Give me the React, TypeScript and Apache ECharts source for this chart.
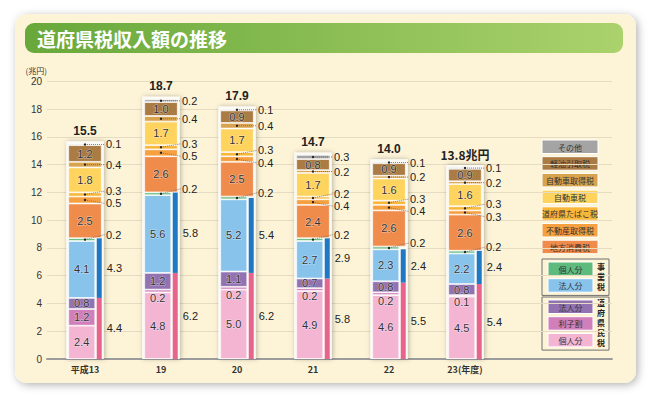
import React, { useEffect, useRef } from 'react';
import * as echarts from 'echarts';

const categories = ['平成13', '19', '20', '21', '22', '23(年度)'];
const totalLabels = ['15.5', '18.7', '17.9', '14.7', '14.0', '13.8兆円'];

// 道府県民税
const kojinJumin = [2.4, 4.8, 5.0, 4.9, 4.6, 4.5];
const rishiwari = [1.2, 0.2, 0.2, 0.2, 0.2, 0.1];
const hojinJumin = [0.8, 1.2, 1.1, 0.7, 0.8, 0.8];
// 事業税
const hojinJigyo = [4.1, 5.6, 5.2, 2.7, 2.3, 2.2];
const kojinJigyo = [0.2, 0.2, 0.2, 0.2, 0.2, 0.2];
// その他の税目
const chihoShohi = [2.5, 2.6, 2.5, 2.4, 2.6, 2.6];
const fudosan = [0.5, 0.5, 0.4, 0.4, 0.4, 0.3];
const tabako = [0.3, 0.3, 0.3, 0.2, 0.3, 0.3];
const jidosha = [1.8, 1.7, 1.7, 1.7, 1.6, 1.6];
const jidoshaShutoku = [0.4, 0.4, 0.4, 0.2, 0.2, 0.2];
const keiyu = [1.2, 1.0, 0.9, 0.8, 0.9, 0.9];
const sonota = [0.1, 0.2, 0.1, 0.3, 0.1, 0.1];
// 小計（右側の細い棒）
const fukenminzei = [4.4, 6.2, 6.2, 5.8, 5.5, 5.4];
const jigyozei = [4.3, 5.8, 5.4, 2.9, 2.4, 2.4];

const yTicks = [0, 20, 2];

const FONT = '"Noto Sans CJK JP", "Noto Sans", sans-serif';
const NUM_FONT = '"Liberation Sans", Arial, sans-serif';
const VERT_FONT = '"Liberation Sans", "Noto Sans CJK JP", sans-serif';

type Seg = { name: string; data: number[]; color: string; mode: 'inside' | 'below' | 'leader' };

const lowerSeries: Seg[] = [
  { name: '個人分', data: kojinJumin, color: '#f4b5d3', mode: 'inside' },
  { name: '利子割', data: rishiwari, color: '#d07fbb', mode: 'below' },
  { name: '法人分', data: hojinJumin, color: '#9372b2', mode: 'inside' },
  { name: '法人分', data: hojinJigyo, color: '#88c3ec', mode: 'inside' },
  { name: '個人分', data: kojinJigyo, color: '#5fba7d', mode: 'leader' },
];
const upperSeries: Seg[] = [
  { name: '地方消費税', data: chihoShohi, color: '#ef8b4b', mode: 'inside' },
  { name: '不動産取得税', data: fudosan, color: '#f6a03f', mode: 'leader' },
  { name: '道府県たばこ税', data: tabako, color: '#f9b73a', mode: 'leader' },
  { name: '自動車税', data: jidosha, color: '#fed45f', mode: 'inside' },
  { name: '自動車取得税', data: jidoshaShutoku, color: '#d9a34e', mode: 'leader' },
  { name: '軽油引取税', data: keiyu, color: '#aa7b43', mode: 'inside' },
  { name: 'その他', data: sonota, color: '#a4a4a4', mode: 'leader' },
];
const sideSeries = [
  { name: '道府県民税', data: fukenminzei, color: '#e9648c' },
  { name: '事業税', data: jigyozei, color: '#1f78c4' },
];

const allSegs = [...lowerSeries, ...upperSeries];
const lowerSums = categories.map((_, i) => lowerSeries.reduce((s, r) => s + r.data[i], 0));
const stackSums = categories.map((_, i) => allSegs.reduce((s, r) => s + r.data[i], 0));

const GRID_TOP = 81.3;
const GRID_H = 277.7;
const GRID_LEFT = 47;
const BAND_W = 456;

const labelBase = {
  fontSize: 11,
  lineHeight: 11,
  color: '#333',
  fontFamily: NUM_FONT,
  textBorderColor: 'rgba(255,255,255,0.5)',
  textBorderWidth: 1,
};

function segSeries(s: Seg, stack: string, axis: number, width: number) {
  return {
    type: 'bar',
    name: s.name,
    stack,
    xAxisIndex: axis,
    yAxisIndex: axis,
    barWidth: width,
    barGap: '5.5%',
    z: 3,
    itemStyle: { color: s.color, borderColor: 'rgba(255,255,255,0.85)', borderWidth: 0.8 },
    label: {
      show: s.mode !== 'leader',
      position: 'inside',
      formatter: (p: any) => Number(p.value).toFixed(1),
      ...labelBase,
    },
    data: s.data.map((v) =>
      s.mode === 'below' && v < 0.5
        ? { value: v, label: { position: 'bottom', distance: 0 } }
        : v
    ),
  };
}

export default function App() {
  const ref = useRef<HTMLDivElement>(null);
  useEffect(() => {
    if (!ref.current) return;
    const chart = echarts.init(ref.current, null, { renderer: 'svg' });

    const legendTop = [...upperSeries].reverse();
    const graphics: any[] = [
      {
        type: 'rect',
        z: -10,
        shape: { x: 15, y: 14, width: 621, height: 369, r: 12 },
        style: { fill: '#fdf4d8', shadowBlur: 8, shadowOffsetX: 2, shadowOffsetY: 2, shadowColor: 'rgba(0,0,0,0.3)' },
        silent: true,
      },
      {
        type: 'rect',
        z: -9,
        shape: { x: 25, y: 23, width: 598, height: 30, r: 9 },
        style: {
          fill: new echarts.graphic.LinearGradient(0, 0, 1, 0, [
            { offset: 0, color: '#68a83a' },
            { offset: 1, color: '#abd26c' },
          ]),
        },
      },
      {
        type: 'text',
        x: 37,
        y: 38.5,
        style: { text: '道府県税収入額の推移', fill: '#fff', fontSize: 19, fontWeight: 'bold', fontFamily: FONT, verticalAlign: 'middle' },
      },
    ];
    legendTop.forEach((s, k) => {
      const y = 140 + k * 16.7;
      graphics.push({
        type: 'rect',
        shape: { x: 542, y, width: 56, height: 13.5 },
        style: { fill: s.color, stroke: '#fff', lineWidth: 1 },
      });
      graphics.push({
        type: 'text',
        x: 570,
        y: y + 7,
        style: { text: s.name, fill: '#333', fontSize: 8, fontFamily: FONT, align: 'center', verticalAlign: 'middle' },
      });
    });
    const groups = [
      { title: '事業税', items: [lowerSeries[4], lowerSeries[3]], y: 259 },
      { title: '道府県民税', items: [lowerSeries[2], lowerSeries[1], lowerSeries[0]], y: 297 },
    ];
    groups.forEach((g) => {
      const h = g.items.length * 16.7 + 3;
      graphics.push({
        type: 'rect',
        shape: { x: 542, y: g.y, width: 67, height: h },
        style: { fill: '#fdf4d8', stroke: '#6f6f6f', lineWidth: 1 },
      });
      g.items.forEach((s, k) => {
        const y = g.y + 3 + k * 16.7;
        graphics.push({
          type: 'rect',
          shape: { x: 548, y, width: 45, height: 13.5 },
          style: { fill: s.color, stroke: '#fff', lineWidth: 1 },
        });
        graphics.push({
          type: 'text',
          x: 570.5,
          y: y + 7,
          style: { text: s.name, fill: '#333', fontSize: 8, fontFamily: FONT, align: 'center', verticalAlign: 'middle' },
        });
      });
      const chars = g.title.split('');
      const step = 9.8;
      chars.forEach((ch, k) => {
        graphics.push({
          type: 'text',
          x: 601,
          y: g.y + h / 2 + (k - (chars.length - 1) / 2) * step,
          style: {
            text: ch,
            fill: '#222',
            fontSize: 8,
            fontWeight: 'bold',
            fontFamily: VERT_FONT,
            align: 'center',
            verticalAlign: 'middle',
          },
        });
      });
    });

    const gridBase = { top: GRID_TOP, height: GRID_H, containLabel: false };
    const hiddenY = { type: 'value', min: yTicks[0], max: yTicks[1], interval: yTicks[2], show: false };
    const hiddenCat = { type: 'category', data: categories, show: false };

    const option: any = {
      animation: false,
      textStyle: { fontFamily: FONT },
      grid: [
        { ...gridBase, left: GRID_LEFT, width: 565 },
        { ...gridBase, left: GRID_LEFT, width: BAND_W },
        { ...gridBase, left: GRID_LEFT, width: BAND_W },
      ],
      xAxis: [
        {
          gridIndex: 0,
          type: 'value',
          min: 0,
          max: 1,
          axisLine: { show: true, lineStyle: { color: '#9c9c9c', width: 2 } },
          axisTick: { show: false },
          axisLabel: { show: false },
          splitLine: { show: false },
        },
        {
          gridIndex: 1,
          type: 'category',
          data: categories,
          axisLine: { show: false },
          axisTick: { show: false },
          axisLabel: { fontSize: 9, fontWeight: 'bold', color: '#333', margin: 6, fontFamily: FONT },
        },
        { gridIndex: 2, ...hiddenCat },
      ],
      yAxis: [
        {
          gridIndex: 0,
          type: 'value',
          min: yTicks[0],
          max: yTicks[1],
          interval: yTicks[2],
          name: '(兆円)',
          nameLocation: 'end',
          nameGap: 7,
          nameTextStyle: { fontSize: 8, color: '#333', align: 'right', padding: [0, 0, 0, 0], fontFamily: FONT },
          axisLine: { show: false },
          axisTick: { show: false },
          axisLabel: { fontSize: 10, color: '#333', margin: 5, fontFamily: NUM_FONT },
          splitLine: { lineStyle: { color: '#e6dcc1', width: 1 } },
        },
        { gridIndex: 1, ...hiddenY },
        { gridIndex: 2, ...hiddenY },
      ],
      graphic: graphics,
      series: [
        // white frame behind each column
        {
          type: 'custom',
          xAxisIndex: 1,
          yAxisIndex: 1,
          z: 1,
          silent: true,
          data: stackSums.map((t, i) => [i, t]),
          renderItem: (params: any, api: any) => {
            const i = api.value(0);
            const [cx, y0] = api.coord([i, 0]);
            const yt = api.coord([i, api.value(1)])[1];
            return {
              type: 'rect',
              shape: { x: cx - 18.75, y: yt - 2.5, width: 37.5, height: y0 - yt + 2.5 },
              style: { fill: '#fbfaf5', shadowBlur: 5, shadowColor: 'rgba(0,0,0,0.28)', shadowOffsetX: 1 },
            };
          },
        },
        ...lowerSeries.map((s) => segSeries(s, 'main', 1, 27)),
        ...sideSeries.map((s) => ({
          type: 'bar',
          name: s.name,
          stack: 'side',
          xAxisIndex: 1,
          yAxisIndex: 1,
          barWidth: 5,
          barGap: '5.5%',
          z: 3,
          itemStyle: { color: s.color },
          label: {
            show: true,
            position: 'right',
            distance: 5,
            formatter: (p: any) => Number(p.value).toFixed(1),
            fontSize: 11,
            color: '#222',
            fontFamily: NUM_FONT,
          },
          data: s.data,
        })),
        {
          type: 'bar',
          name: 'base',
          stack: 'upper',
          xAxisIndex: 2,
          yAxisIndex: 2,
          barWidth: 33.5,
          silent: true,
          itemStyle: { color: 'rgba(0,0,0,0)' },
          data: lowerSums,
        },
        ...upperSeries.map((s) => segSeries(s, 'upper', 2, 33.5)),
        // leader labels for thin segments + totals
        {
          type: 'custom',
          xAxisIndex: 1,
          yAxisIndex: 1,
          z: 6,
          silent: true,
          data: stackSums.map((t, i) => [i, t]),
          renderItem: (params: any, api: any) => {
            const i = api.value(0);
            const cx = api.coord([i, 0])[0];
            let cum = 0;
            const items: { y: number; ty: number; text: string }[] = [];
            allSegs.forEach((s, k) => {
              const v = s.data[i];
              if (s.mode === 'leader') {
                const y = api.coord([i, cum + v / 2])[1];
                items.push({ y, ty: y + (k === 4 ? -5 : 0), text: v.toFixed(1) });
              }
              cum += v;
            });
            items.sort((a, b) => a.ty - b.ty);
            const GAP = 12.5;
            for (let it = 0; it < 20; it++) {
              for (let j = 1; j < items.length; j++) {
                const d = items[j].ty - items[j - 1].ty;
                if (d < GAP) {
                  const m = (GAP - d) / 2;
                  items[j].ty += m;
                  items[j - 1].ty -= m;
                }
              }
            }
            const lx = cx + 21;
            const children: any[] = [];
            items.forEach((it) => {
              children.push({
                type: 'line',
                shape: { x1: cx, y1: it.y, x2: lx - 1, y2: it.ty },
                style: { stroke: '#6a6a6a', lineWidth: 0.8, lineDash: [1, 1] },
              });
              children.push({ type: 'circle', shape: { cx, cy: it.y, r: 1.2 }, style: { fill: '#222' } });
              children.push({
                type: 'text',
                x: lx,
                y: it.ty,
                style: { text: it.text, fill: '#222', fontSize: 11, lineHeight: 11, fontFamily: NUM_FONT, verticalAlign: 'middle' },
              });
            });
            const yt = api.coord([i, api.value(1)])[1];
            children.push({
              type: 'text',
              x: cx,
              y: yt - 13,
              style: {
                text: totalLabels[i],
                fill: '#222',
                fontSize: 12,
                fontWeight: 'bold',
                fontFamily: i === totalLabels.length - 1 ? FONT : NUM_FONT,
                align: 'center',
                verticalAlign: 'middle',
              },
            });
            return { type: 'group', children };
          },
        },
      ],
    };
    chart.setOption(option);
    return () => chart.dispose();
  }, []);
  return (
    <div
      ref={ref}
      style={{ position: 'fixed', left: 0, top: 0, width: 650, height: 398, background: '#fff' }}
    />
  );
}
